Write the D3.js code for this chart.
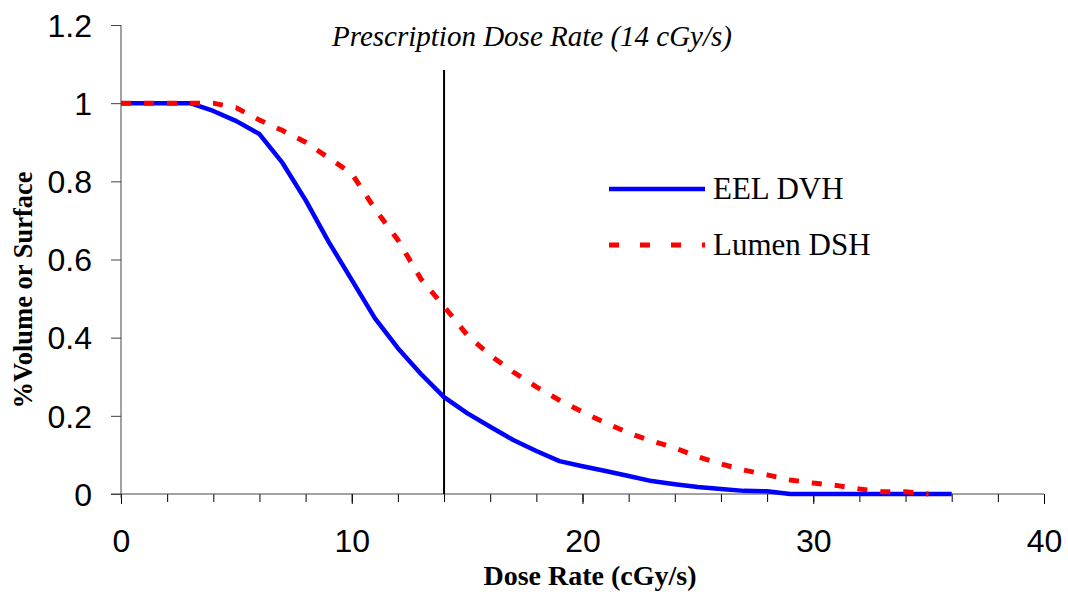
<!DOCTYPE html>
<html>
<head>
<meta charset="utf-8">
<script src="https://cdn.jsdelivr.net/npm/d3@7"></script>
<style>
  body { margin: 0; background: #fff; }
  svg { display: block; }
</style>
</head>
<body>
<svg id="chart" width="1068" height="599"></svg>
<script>
// dose-rate histograms

var doseRate = [0, 1, 2, 3, 4, 5, 6, 7, 8, 9, 10, 11, 12, 13, 14, 15, 16, 17, 18,
    19, 20, 21, 22, 23, 24, 25, 26, 27, 28, 29, 30, 31, 32, 33, 34, 35, 36];

var eelDVH = [1, 1, 1, 1, 0.98, 0.954, 0.921, 0.847, 0.752, 0.645, 0.548, 0.45, 0.373,
    0.307, 0.248, 0.207, 0.172, 0.138, 0.11, 0.084, 0.071, 0.059, 0.046, 0.033, 0.025,
    0.018, 0.013, 0.008, 0.007, 0, 0, 0, 0, 0, 0, 0, 0];

var lumenDSH = [1, 1, 1, 1, 1, 0.988, 0.957, 0.93, 0.9, 0.86, 0.82, 0.73, 0.65, 0.55,
    0.48, 0.407, 0.355, 0.312, 0.274, 0.24, 0.21, 0.182, 0.156, 0.136, 0.118, 0.095,
    0.077, 0.061, 0.049, 0.036, 0.028, 0.022, 0.013, 0.006, 0.006, 0];

var xTicks = [0, 10, 20, 30, 40];
var xMinorTicks = d3.range(0, 41, 2);
var yTicks = [0, 0.2, 0.4, 0.6, 0.8, 1, 1.2];

var prescriptionDose = 14;
var prescriptionTop = 1.085;

var seriesNames = ["EEL DVH", "Lumen DSH"];

var svg = d3.select("#chart");

// plot box (window.top is taken, so no "top" here)
var plotL = 121, plotR = 1044, plotT = 25, plotB = 494;

var x = d3.scaleLinear().domain([0, 40]).range([plotL, plotR]);
var y = d3.scaleLinear().domain([0, 1.2]).range([plotB, plotT]);

// axes
var xMinor = d3.axisBottom(x).tickValues(xMinorTicks).tickSize(8).tickFormat("");
svg.append("g")
    .attr("transform", "translate(0," + plotB + ")")
    .call(xMinor)
    .call(function(g) { g.select(".domain").remove(); })
    .selectAll("line").attr("stroke", "#000").attr("stroke-width", 1);

var xAxis = d3.axisBottom(x).tickValues(xTicks).tickSize(10).tickSizeOuter(0)
    .tickPadding(25).tickFormat(d3.format("d"));
var gx = svg.append("g")
    .attr("transform", "translate(0," + plotB + ")")
    .call(xAxis);
gx.select(".domain").attr("d", "M" + (plotL - 10) + ",0H" + plotR).attr("stroke", "#444");
gx.selectAll("line").attr("stroke", "#000");
gx.selectAll("text")
    .attr("font-family", "Liberation Sans, Arial, sans-serif")
    .attr("font-size", 32)
    .attr("fill", "#000");

var yAxis = d3.axisLeft(y).tickValues(yTicks).tickSize(10).tickSizeOuter(0)
    .tickPadding(19).tickFormat(function(d) { return d3.format("")(+d.toFixed(1)); });
var gy = svg.append("g")
    .attr("transform", "translate(" + plotL + ",0)")
    .call(yAxis);
gy.select(".domain").attr("d", "M0," + plotT + "V" + (plotB + 4)).attr("stroke", "#444");
gy.selectAll("line").attr("stroke", "#444");
gy.selectAll("text")
    .attr("font-family", "Liberation Sans, Arial, sans-serif")
    .attr("font-size", 32)
    .attr("dy", "0.35em")
    .attr("fill", "#000");

// axis titles
svg.append("text")
    .attr("x", 590)
    .attr("y", 585)
    .attr("text-anchor", "middle")
    .attr("font-family", "Liberation Serif, Times New Roman, serif")
    .attr("font-weight", "bold")
    .attr("font-size", 28)
    .text("Dose Rate (cGy/s)");

svg.append("text")
    .attr("transform", "translate(32,290) rotate(-90)")
    .attr("text-anchor", "middle")
    .attr("font-family", "Liberation Serif, Times New Roman, serif")
    .attr("font-weight", "bold")
    .attr("font-size", 26.5)
    .text("%Volume or Surface");

// prescription line
svg.append("line")
    .attr("x1", x(prescriptionDose)).attr("x2", x(prescriptionDose))
    .attr("y1", y(prescriptionTop)).attr("y2", y(0))
    .attr("stroke", "#000")
    .attr("stroke-width", 2);

svg.append("text")
    .attr("x", 532)
    .attr("y", 46)
    .attr("text-anchor", "middle")
    .attr("font-family", "Liberation Serif, Times New Roman, serif")
    .attr("font-style", "italic")
    .attr("font-size", 29)
    .text("Prescription Dose Rate (" + prescriptionDose + " cGy/s)");

// series
var line = d3.line()
    .x(function(d) { return x(d[0]); })
    .y(function(d) { return y(d[1]); });

var eelPts = doseRate.map(function(d, i) { return [d, eelDVH[i]]; });
var lumenPts = lumenDSH.map(function(v, i) { return [doseRate[i], v]; });

svg.append("path")
    .datum(eelPts)
    .attr("d", line)
    .attr("fill", "none")
    .attr("stroke", "#0000ff")
    .attr("stroke-width", 4.5)
    .attr("stroke-linejoin", "round");

svg.append("path")
    .datum(lumenPts)
    .attr("d", line)
    .attr("fill", "none")
    .attr("stroke", "#ff0000")
    .attr("stroke-width", 5)
    .attr("stroke-dasharray", "10,13");

// legend
var legend = svg.append("g");
var legendRows = [
    {name: seriesNames[0], color: "#0000ff", dash: null, y: 189},
    {name: seriesNames[1], color: "#ff0000", dash: "10,21", y: 245}
];
legendRows.forEach(function(r) {
    legend.append("line")
        .attr("x1", 609).attr("x2", 705)
        .attr("y1", r.y).attr("y2", r.y)
        .attr("stroke", r.color)
        .attr("stroke-width", r.dash ? 5 : 4.5)
        .attr("stroke-dasharray", r.dash);
    legend.append("text")
        .attr("x", 713)
        .attr("y", r.y + 10)
        .attr("font-family", "Liberation Serif, Times New Roman, serif")
        .attr("font-size", 31)
        .text(r.name);
});
</script>
</body>
</html>
